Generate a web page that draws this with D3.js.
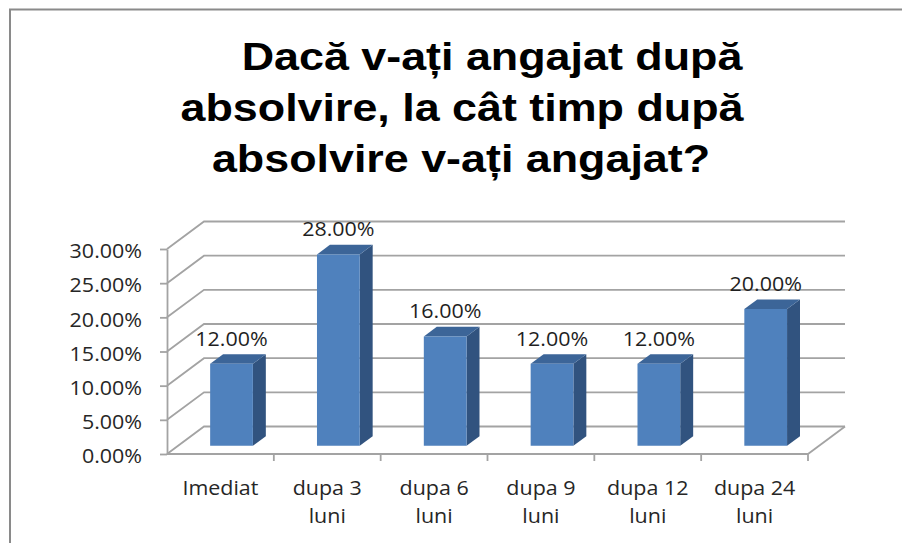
<!DOCTYPE html>
<meta charset="utf-8">
<script src="https://d3js.org/d3.v7.min.js"></script>
<style>
  body { margin: 0; background: #fff; }
</style>
<svg id="chart" width="902" height="543"></svg>
<script>

// data
var titleLines = ["Dacă v-ați angajat după", "absolvire, la cât timp după", "absolvire v-ați angajat?"];
var categories = ["Imediat", "dupa 3 luni", "dupa 6 luni", "dupa 9 luni", "dupa 12 luni", "dupa 24 luni"];
var categoryLines = [["Imediat"], ["dupa 3", "luni"], ["dupa 6", "luni"], ["dupa 9", "luni"], ["dupa 12", "luni"], ["dupa 24", "luni"]];
var values = [0.12, 0.28, 0.16, 0.12, 0.12, 0.20];
var yTicks = [0, 0.05, 0.10, 0.15, 0.20, 0.25, 0.30];

var svg = d3.select("#chart");

// frame (cropped chart border)
svg.append("path")
  .attr("d", "M10,543 V9.5 H902")
  .attr("fill", "none")
  .attr("stroke", "#8a8a8a")
  .attr("stroke-width", 2);

// title
var fontTitle = "'Liberation Sans', Arial, sans-serif";
var titleX = [492, 462, 461];
svg.append("g").selectAll("text")
  .data(titleLines)
  .enter().append("text")
  .attr("transform", function(d, i) { return "translate(" + titleX[i] + "," + (70 + i * 51) + ") scale(1.18,1)"; })
  .attr("text-anchor", "middle")
  .style("font-family", fontTitle)
  .style("font-weight", "bold")
  .style("font-size", "38px")
  .style("fill", "#000")
  .text(function(d) { return d; });

// scales
var x = d3.scaleBand().domain(categories).range([167, 808]);
var y = d3.scaleLinear().domain([0, 0.30]).range([454, 249]);
var depth = { dx: 37, dy: -27.5 };
var fmt = d3.format(".2%");
var gridColor = "#a3a3a3";
var fontBody = "'Open Sans', 'Noto Sans', sans-serif";

function pt(px, py, z) { return [px + depth.dx * z, py + depth.dy * z]; }

var walls = svg.append("g").attr("fill", "none").attr("stroke", gridColor).attr("stroke-width", 1.8);

// back wall gridlines + side wall diagonals
yTicks.forEach(function(t) {
  var a = pt(x.range()[0], y(t), 0), b = pt(x.range()[0], y(t), 1), c = pt(x.range()[1], y(t), 1);
  walls.append("path").attr("d", "M" + a + "L" + b + "L" + c);
});
// floor right edge
var fr = pt(x.range()[1], y(0), 0), br = pt(x.range()[1], y(0), 1);
walls.append("path").attr("d", "M" + fr + "L" + br);

// y axis
var yAxis = svg.append("g")
  .attr("transform", "translate(167,0)")
  .call(d3.axisLeft(y).tickValues(yTicks).tickSize(7).tickSizeOuter(0).tickFormat(fmt));
yAxis.select(".domain").attr("stroke", gridColor).attr("stroke-width", 1.8);
yAxis.selectAll(".tick line").attr("stroke", gridColor).attr("stroke-width", 1.8);
yAxis.selectAll(".tick text")
  .attr("x", null)
  .attr("dy", "0.45em")
  .attr("transform", "translate(-25,0) scale(1.1,1)")
  .attr("fill", "#262626")
  .style("font-family", fontBody)
  .style("font-size", "19.5px");

// x axis
var xAxis = svg.append("g").attr("stroke", gridColor).attr("stroke-width", 1.8);
xAxis.append("line")
  .attr("x1", x.range()[0]).attr("x2", x.range()[1])
  .attr("y1", y(0)).attr("y2", y(0));
categories.concat([null]).forEach(function(c, i) {
  if (i === 0) return;
  var xv = c === null ? x.range()[1] : x(c);
  xAxis.append("line").attr("x1", xv).attr("x2", xv).attr("y1", y(0)).attr("y2", y(0) + 7);
});

// category labels
var catG = svg.append("g")
  .style("font-family", fontBody)
  .style("font-size", "19.5px")
  .attr("fill", "#262626");
categories.forEach(function(c, i) {
  categoryLines[i].forEach(function(line, j) {
    catG.append("text")
      .attr("text-anchor", "middle")
      .attr("transform", "translate(" + (x(c) + x.bandwidth() / 2) + "," + (495 + j * 28) + ") scale(1.1,1)")
      .text(line);
  });
});

// 3D bars
var z0 = 0.3, z1 = 0.65, barFrac = 0.4;
var bars = svg.append("g").selectAll("g")
  .data(categories)
  .enter().append("g");

bars.each(function(c, i) {
  var g = d3.select(this);
  var w = x.bandwidth() * barFrac;
  var left = x(c) + (x.bandwidth() - w) / 2;
  var v = values[i];
  var fbl = pt(left, y(0), z0), fbr = pt(left + w, y(0), z0);
  var ftl = pt(left, y(v), z0), ftr = pt(left + w, y(v), z0);
  var btl = pt(left, y(v), z1), btr = pt(left + w, y(v), z1), bbr = pt(left + w, y(0), z1);
  // side
  g.append("path").attr("d", "M" + fbr + "L" + bbr + "L" + btr + "L" + ftr + "Z").attr("fill", "#31537f");
  // top
  g.append("path").attr("d", "M" + ftl + "L" + btl + "L" + btr + "L" + ftr + "Z").attr("fill", "#3c6598");
  // front
  g.append("path").attr("d", "M" + fbl + "L" + ftl + "L" + ftr + "L" + fbr + "Z").attr("fill", "#4f81bd");
  // label
  var cx = (fbl[0] + fbr[0]) / 2;
  g.append("text")
    .attr("text-anchor", "middle")
    .attr("transform", "translate(" + cx + "," + (btl[1] - 8.5) + ") scale(1.1,1)")
    .style("font-family", fontBody)
    .style("font-size", "19.5px")
    .attr("fill", "#1f1f1f")
    .text(fmt(v));
});

</script>
